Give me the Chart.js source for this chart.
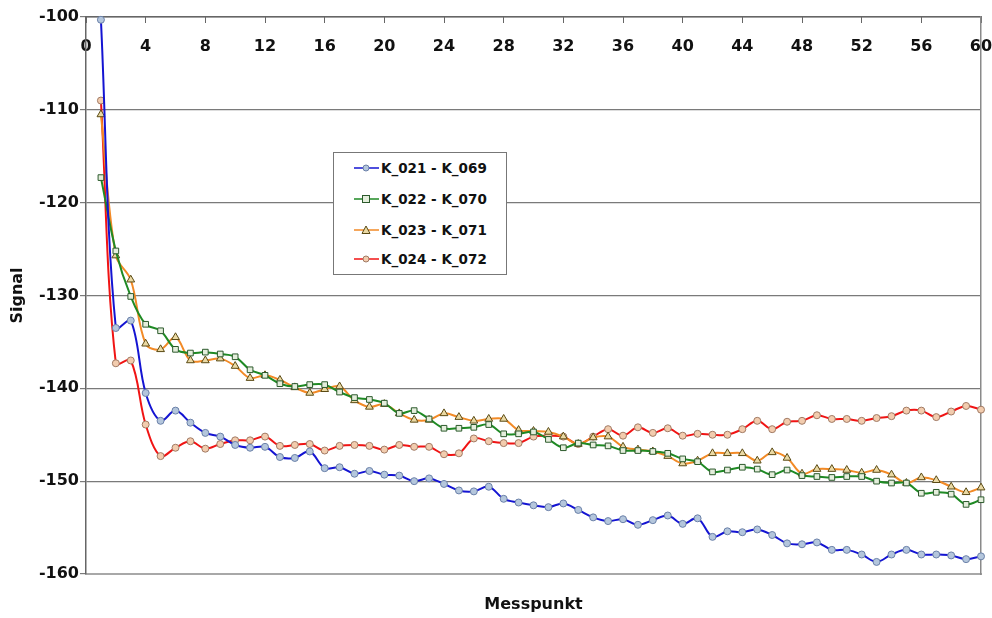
<!DOCTYPE html>
<html><head><meta charset="utf-8">
<script src="https://cdn.jsdelivr.net/npm/chart.js@4.4.0/dist/chart.umd.min.js"></script>
<style>
html,body{margin:0;padding:0;background:#fff;}
#wrap{position:relative;width:992px;height:618px;}
canvas{display:block;}
#legend{position:absolute;left:333px;top:152px;width:172px;height:121px;border:1.5px solid #777;background:#fff;font:bold 13.5px "DejaVu Sans",sans-serif;color:#111;}
.item{position:absolute;left:0;height:20px;display:flex;align-items:center;white-space:nowrap;}
.item svg{margin-left:20px;margin-right:2px;}
</style></head><body>
<div id="wrap"><canvas id="c" width="992" height="618"></canvas><div id="legend"></div></div>
<script>
const messpunkt = [1,2,3,4,5,6,7,8,9,10,11,12,13,14,15,16,17,18,19,20,21,22,23,24,25,26,27,28,29,30,31,32,33,34,35,36,37,38,39,40,41,42,43,44,45,46,47,48,49,50,51,52,53,54,55,56,57,58,59,60];
const seriesNames = ["K_021 - K_069","K_022 - K_070","K_023 - K_071","K_024 - K_072"];
const k021 = [-100.3,-133.5,-132.7,-140.5,-143.5,-142.4,-143.7,-144.8,-145.2,-146.1,-146.4,-146.3,-147.4,-147.5,-146.8,-148.6,-148.5,-149.2,-148.9,-149.3,-149.4,-150.0,-149.7,-150.3,-151.0,-151.1,-150.6,-151.9,-152.3,-152.6,-152.8,-152.4,-153.1,-153.9,-154.3,-154.1,-154.7,-154.2,-153.7,-154.6,-154.0,-156.0,-155.4,-155.5,-155.2,-155.8,-156.7,-156.8,-156.6,-157.4,-157.4,-157.9,-158.7,-157.9,-157.4,-157.9,-157.9,-158.0,-158.4,-158.1];
const k022 = [-117.3,-125.2,-130.1,-133.1,-133.8,-135.8,-136.2,-136.1,-136.3,-136.6,-138.0,-138.6,-139.5,-139.8,-139.6,-139.6,-140.4,-141.0,-141.2,-141.6,-142.7,-142.4,-143.3,-144.3,-144.3,-144.2,-143.9,-144.9,-144.9,-144.7,-145.5,-146.4,-145.9,-146.1,-146.2,-146.7,-146.7,-146.8,-147.0,-147.6,-147.9,-149.0,-148.8,-148.5,-148.7,-149.3,-148.8,-149.4,-149.5,-149.6,-149.5,-149.5,-150.0,-150.2,-150.2,-151.3,-151.2,-151.4,-152.5,-152.0];
const k023 = [-110.5,-125.7,-128.3,-135.2,-135.8,-134.5,-137.0,-137.0,-136.8,-137.6,-138.9,-138.6,-139.1,-139.9,-140.5,-140.1,-139.8,-141.3,-142.0,-141.7,-142.7,-143.4,-143.4,-142.7,-143.1,-143.5,-143.3,-143.3,-144.5,-144.6,-144.7,-145.2,-146.0,-145.3,-145.2,-146.3,-146.6,-146.8,-147.3,-148.1,-147.8,-147.0,-147.0,-147.0,-147.8,-146.9,-147.5,-149.2,-148.7,-148.7,-148.8,-149.1,-148.8,-149.3,-150.2,-149.6,-149.9,-150.6,-151.2,-150.7];
const k024 = [-109.0,-137.3,-137.0,-143.9,-147.3,-146.4,-145.7,-146.5,-146.0,-145.6,-145.6,-145.2,-146.2,-146.1,-146.0,-146.7,-146.2,-146.1,-146.2,-146.6,-146.1,-146.3,-146.3,-147.1,-147.0,-145.4,-145.7,-145.9,-145.9,-145.2,-145.1,-145.2,-146.0,-145.2,-144.4,-145.1,-144.2,-144.8,-144.3,-145.1,-144.9,-145.0,-145.0,-144.4,-143.5,-144.4,-143.6,-143.5,-142.9,-143.3,-143.3,-143.5,-143.2,-143.0,-142.4,-142.4,-143.1,-142.5,-141.9,-142.3];
const xTicks = [0,4,8,12,16,20,24,28,32,36,40,44,48,52,56,60];
const yTicks = [-100,-110,-120,-130,-140,-150,-160];

const styles = [
  {line:'#1414d2', fill:'#b4c6dc', border:'#6a80a8', shape:'circle', r:3.5},
  {line:'#1f8a24', fill:'#e4eedc', border:'#2c5a2c', shape:'rect', r:4},
  {line:'#f28a26', fill:'#ead9a4', border:'#5a4a14', shape:'triangle', r:4.5},
  {line:'#f01414', fill:'#f2ccae', border:'#a07a64', shape:'circle', r:3.5}
];
const allSeries = [k021,k022,k023,k024];
const FONT = '"DejaVu Sans", sans-serif';

const datasets = allSeries.map((vals,i)=>({
  label: seriesNames[i],
  data: messpunkt.map((x,j)=>({x:x,y:vals[j]})),
  borderColor: styles[i].line,
  borderWidth: 2,
  tension: 0.35,
  pointStyle: styles[i].shape,
  pointRadius: styles[i].r,
  pointBackgroundColor: styles[i].fill,
  pointBorderColor: styles[i].border,
  pointBorderWidth: 1,
  clip: 6
}));

function fixH(h){ return s => { s.height = h; s.paddingLeft = 0; s.paddingRight = 0; }; }
function fixW(w){ return s => { s.width = w; s.paddingTop = 0; s.paddingBottom = 0; }; }

const chart = new Chart(document.getElementById('c'), {
  type: 'line',
  data: { datasets: datasets },
  options: {
    responsive: false,
    animation: false,
    devicePixelRatio: 1,
    layout: { padding: 0 },
    plugins: { legend: { display: false }, tooltip: { enabled: false } },
    scales: {
      x: {
        type: 'linear', position: 'top', min: 0, max: 60,
        afterBuildTicks: s => { s.ticks = xTicks.map(v=>({value:v})); },
        afterFit: fixH(17),
        ticks: { font: { family: FONT, size: 16, weight: 'bold' }, color: '#111', mirror: true, padding: 20.4, maxRotation: 0, autoSkip: false },
        grid: { drawOnChartArea: false, drawTicks: true, tickLength: -6, color: '#666', lineWidth: 1 },
        border: { display: true, color: '#666', width: 1.5 }
      },
      x2: {
        type: 'linear', position: 'bottom', min: 0, max: 60,
        afterFit: fixH(44),
        ticks: { display: false },
        grid: { drawOnChartArea: false, drawTicks: false },
        border: { display: true, color: '#a8a8a8', width: 2 },
        title: { display: true, text: 'Messpunkt', font: { family: FONT, size: 16, weight: 'bold' }, color: '#111', padding: { top: 0, bottom: 4 } }
      },
      y: {
        type: 'linear', position: 'left', min: -160, max: -100,
        afterBuildTicks: s => { s.ticks = yTicks.map(v=>({value:v})); },
        afterFit: fixW(86),
        ticks: { font: { family: FONT, size: 16, weight: 'bold' }, color: '#111', padding: 1, callback: v => String(v) },
        grid: { color: '#7a7a7a', lineWidth: 1.2, tickLength: 6, drawTicks: true },
        border: { display: true, color: '#666', width: 1.5 },
        title: { display: true, text: 'Signal', font: { family: FONT, size: 16, weight: 'bold' }, color: '#111', padding: { top: 8, bottom: 0 } }
      },
      y2: {
        type: 'linear', position: 'right', min: -160, max: -100,
        afterFit: fixW(11),
        ticks: { display: false },
        grid: { drawOnChartArea: false, drawTicks: false },
        border: { display: true, color: '#8a8a8a', width: 1.5 }
      }
    }
  }
});

// HTML legend built from the chart's datasets
const legendEl = document.getElementById('legend');
const rowTops = [4.7, 35.7, 67.3, 96.3];
function markerSvg(st){
  let m = '';
  const cx = 12, cy = 7;
  if (st.shape === 'circle') m = `<circle cx="${cx}" cy="${cy}" r="3" fill="${st.fill}" stroke="${st.border}" stroke-width="1"/>`;
  else if (st.shape === 'rect') m = `<rect x="${cx-3.5}" y="${cy-3.5}" width="7" height="7" fill="${st.fill}" stroke="${st.border}" stroke-width="1"/>`;
  else m = `<polygon points="${cx},${cy-4} ${cx+4},${cy+3.5} ${cx-4},${cy+3.5}" fill="${st.fill}" stroke="${st.border}" stroke-width="1"/>`;
  return `<svg width="25" height="14"><line x1="0" y1="${cy}" x2="25" y2="${cy}" stroke="${st.line}" stroke-width="1.5"/>${m}</svg>`;
}
chart.data.datasets.forEach((ds,i)=>{
  const d = document.createElement('div');
  d.className = 'item';
  d.style.top = rowTops[i] + 'px';
  d.innerHTML = markerSvg(styles[i]) + '<span>' + ds.label + '</span>';
  legendEl.appendChild(d);
});
</script>
</body></html>
